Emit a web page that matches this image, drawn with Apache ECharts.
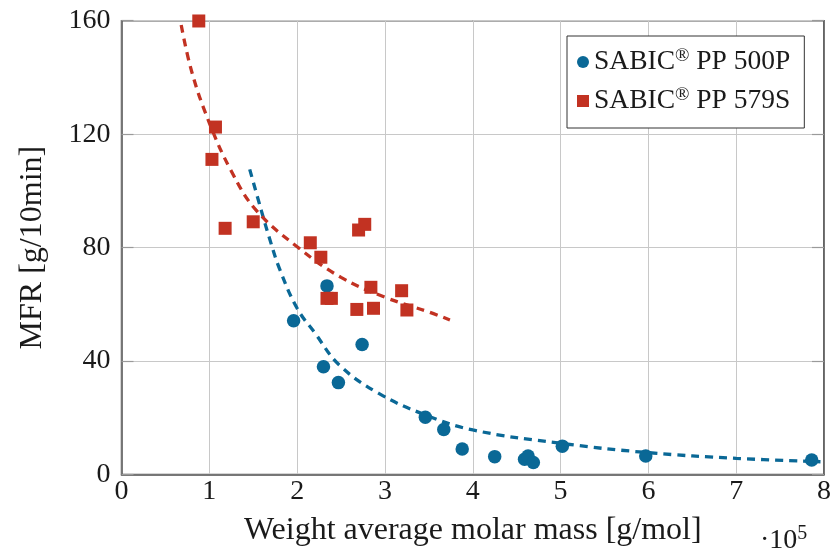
<!DOCTYPE html>
<html>
<head>
<meta charset="utf-8">
<script src="https://cdn.jsdelivr.net/npm/echarts@6/dist/echarts.min.js"></script>
<style>
  html, body { margin: 0; padding: 0; background: #fff; }
  #chart { width: 834px; height: 555px; }
</style>
</head>
<body>
<div id="chart"></div>
<script>
// Measured points: [molar mass (x 10^5 g/mol), MFR (g/10min)]
const pp500P = [
  [1.96, 54.2], [2.34, 66.5], [2.30, 38.0], [2.47, 32.4], [2.74, 45.8],
  [3.46, 20.2], [3.67, 15.9], [3.88, 9.0], [4.25, 6.3], [4.59, 5.4],
  [4.63, 6.5], [4.69, 4.2], [5.02, 10.0], [5.97, 6.5], [7.86, 5.1]
];
const pp579S = [
  [0.88, 159.9], [1.07, 122.5], [1.03, 111.1], [1.18, 86.8], [1.50, 89.1],
  [2.15, 81.7], [2.27, 76.6], [2.34, 62.1], [2.39, 62.1], [2.70, 86.2],
  [2.77, 88.2], [2.84, 66.0], [2.68, 58.2], [2.87, 58.6], [3.19, 64.8],
  [3.25, 58.0]
];
// Trend curves through each grade
const trend500P = [
  [1.46, 107.6], [1.59, 93.3], [1.68, 83.8], [1.8, 72.5], [2.0, 58.6],
  [2.2, 50.0], [2.48, 38.6], [2.93, 28.6], [3.46, 21.0], [4.0, 15.7],
  [5.0, 11.0], [6.0, 7.7], [7.0, 5.7], [7.96, 4.5]
];
const trend579S = [
  [0.68, 158.5], [0.8, 142.0], [1.0, 124.0], [1.25, 107.0], [1.53, 93.3],
  [2.0, 80.3], [2.5, 69.5], [3.0, 62.5], [3.5, 57.3], [3.74, 54.5]
];
const seriesNames = ['PP 500P', 'PP 579S'];
const xTitle = 'Weight average molar mass [g/mol]';
const yTitle = 'MFR [g/10min]';

const BLUE = '#0a6896';
const RED = '#c23222';
const FONT = 'Liberation Serif';
const TEXT = '#1a1a1a';

const chart = echarts.init(document.getElementById('chart'), null, { renderer: 'canvas' });

const axisLineStyle = { color: '#5a5a5a', width: 1.5 };

chart.setOption({
  animation: false,
  backgroundColor: '#fff',
  grid: {
    left: 121.5, right: 7, top: 20.7, bottom: 80.5,
    show: true, borderColor: '#5a5a5a', borderWidth: 1.5
  },
  legend: {
    data: [
      { name: seriesNames[0], icon: 'circle' },
      { name: seriesNames[1], icon: 'rect' }
    ],
    orient: 'vertical',
    left: 567, top: 36,
    itemWidth: 12, itemHeight: 12,
    itemGap: 8,
    padding: [11, 14, 11, 10],
    borderColor: '#333', borderWidth: 1,
    backgroundColor: '#fff',
    formatter: name => 'SABIC{sup|®} ' + name,
    textStyle: {
      fontFamily: FONT, fontSize: 27.5, color: TEXT, lineHeight: 30,
      rich: {
        sup: { fontFamily: FONT, fontSize: 19, color: TEXT, verticalAlign: 'top', lineHeight: 30, padding: [0, 0, 12, 0] }
      }
    }
  },
  xAxis: {
    type: 'value', min: 0, max: 8, interval: 1,
    name: xTitle, nameLocation: 'middle', nameGap: 40,
    nameTextStyle: { fontFamily: FONT, fontSize: 32, color: TEXT },
    axisLine: { show: true, lineStyle: axisLineStyle },
    axisTick: { show: false },
    axisLabel: { fontFamily: FONT, fontSize: 28, color: TEXT, margin: 3 },
    splitLine: { show: true, lineStyle: { color: '#c8c8c8', width: 1 } }
  },
  yAxis: [{
    type: 'value', min: 0, max: 160, interval: 40,
    name: yTitle, nameLocation: 'middle', nameGap: 73, nameRotate: 90,
    nameTextStyle: { fontFamily: FONT, fontSize: 32, color: TEXT },
    axisLine: { show: true, lineStyle: axisLineStyle },
    axisTick: { show: true, inside: true, length: 12, lineStyle: { color: '#9a9a9a', width: 1.2 } },
    axisLabel: { fontFamily: FONT, fontSize: 28, color: TEXT, margin: 11 },
    splitLine: { show: true, lineStyle: { color: '#c8c8c8', width: 1 } }
  }, {
    type: 'value', min: 0, max: 160, interval: 40, position: 'right',
    axisLine: { show: true, lineStyle: axisLineStyle },
    axisTick: { show: true, inside: true, length: 12, lineStyle: { color: '#9a9a9a', width: 1.2 } },
    axisLabel: { show: false },
    splitLine: { show: false }
  }],
  graphic: [{
    type: 'text', left: 760, top: 524,
    style: {
      text: '·10{sup|5}',
      font: '28px "Liberation Serif"', fill: TEXT,
      rich: { sup: { fontFamily: FONT, fontSize: 20, fill: TEXT, padding: [0, 0, 14, 0] } }
    }
  }],
  series: [
    {
      name: 'trend500P', type: 'line', data: trend500P, smooth: 0.4,
      showSymbol: false, silent: true, z: 2,
      lineStyle: { color: BLUE, width: 3.3, type: [8, 6] }
    },
    {
      name: 'trend579S', type: 'line', data: trend579S, smooth: 0.4,
      showSymbol: false, silent: true, z: 2,
      lineStyle: { color: RED, width: 3.3, type: [8, 6] }
    },
    {
      name: seriesNames[0], type: 'scatter', data: pp500P,
      symbol: 'circle', symbolSize: 13.5, z: 3,
      itemStyle: { color: BLUE, opacity: 1 }
    },
    {
      name: seriesNames[1], type: 'scatter', data: pp579S,
      symbol: 'rect', symbolSize: 13, z: 3,
      itemStyle: { color: RED, opacity: 1 }
    }
  ]
});
</script>
</body>
</html>
